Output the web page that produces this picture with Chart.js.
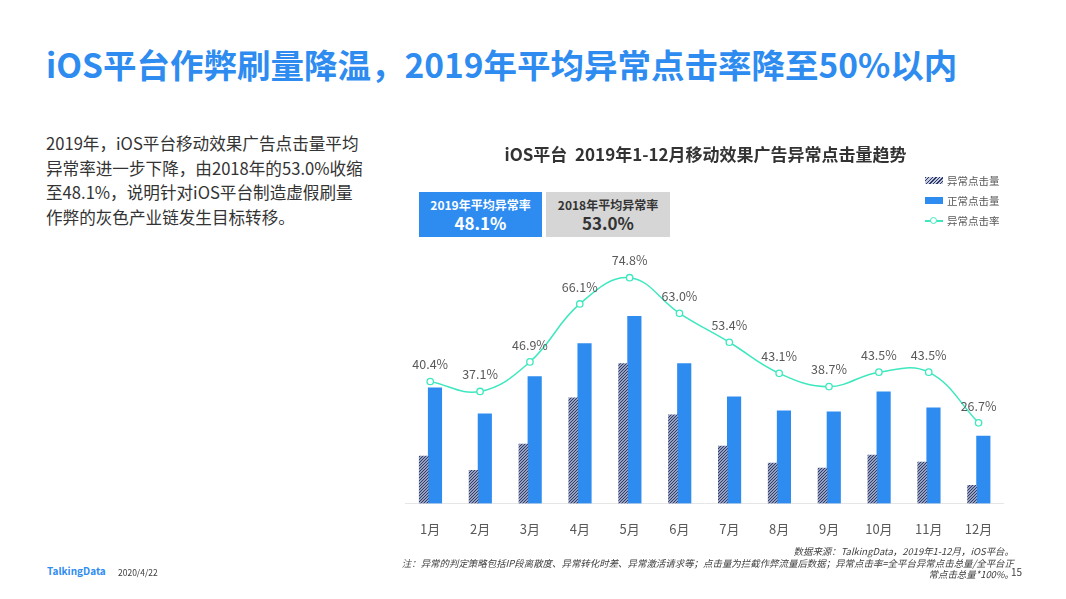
<!DOCTYPE html>
<html>
<head>
<meta charset="utf-8">
<script src="https://cdn.jsdelivr.net/npm/chart.js@4"></script>
<style>
html, body { margin: 0; padding: 0; background: #fff; }
body { width: 1066px; height: 599px; position: relative; overflow: hidden; font-family: "Noto Sans CJK SC", "Noto Sans", sans-serif; }
div { position: absolute; white-space: nowrap; }
#page-title { left: 46px; top: 41px; font-size: 33.5px; line-height: 46px; font-weight: 700; color: #2e8cf0; }
#body-text { left: 46px; top: 131px; font-size: 16.6px; line-height: 24.7px; color: #333; }
#chart-wrap { left: 400px; top: 140px; width: 612px; height: 407px; }
#chart-wrap canvas { display: block; }
.box { top: 192px; height: 45px; width: 123px; text-align: center; font-weight: 700; }
.box span { position: absolute; left: 0; right: 0; }
.box .cap { top: 4px; font-size: 12px; line-height: 17px; }
.box .num { top: 19px; font-size: 17px; line-height: 24px; }
#box-a { left: 419px; background: #2e8cf0; color: #fff; }
#box-b { left: 546px; width: 124px; background: #d6d6d6; color: #333; }
.lg-text { left: 947px; font-size: 10.5px; line-height: 14px; color: #595959; }
.lg-swatch { left: 925px; width: 18px; height: 6px; }
#note { right: 52px; top: 546px; text-align: right; font-size: 9.45px; line-height: 11.6px; font-style: italic; color: #404040; }
#page-no { left: 1011px; top: 565px; font-size: 10px; line-height: 14px; color: #404040; background: #fff; }
#logo { left: 47px; top: 563px; font-size: 10px; line-height: 16px; font-weight: 700; color: #2e8cf0; }
#date { left: 118px; top: 565px; font-size: 8.5px; line-height: 14px; color: #404040; }
</style>
</head>
<body>
<div id="page-title">iOS平台作弊刷量降温，2019年平均异常点击率降至50%以内</div>
<div id="body-text">2019年，iOS平台移动效果广告点击量平均<br>异常率进一步下降，由2018年的53.0%收缩<br>至48.1%，说明针对iOS平台制造虚假刷量<br>作弊的灰色产业链发生目标转移。</div>

<div id="chart-wrap"><canvas id="chart" width="612" height="407"></canvas></div>

<div class="box" id="box-a"><span class="cap">2019年平均异常率</span><span class="num">48.1%</span></div>
<div class="box" id="box-b"><span class="cap">2018年平均异常率</span><span class="num">53.0%</span></div>

<div class="lg-swatch" style="top:177px;height:7px;background:repeating-linear-gradient(135deg,#2b3a6b 0 1px,#c5cbdc 1px 2.5px)"></div>
<div class="lg-text" style="top:174px">异常点击量</div>
<div class="lg-swatch" style="top:197px;height:7px;background:#2e8cf0"></div>
<div class="lg-text" style="top:194px">正常点击量</div>
<div class="lg-swatch" style="top:220px;height:1.5px;background:#3de8bf"></div>
<div style="left:930px;top:217px;width:5px;height:5px;border:1.5px solid #3de8bf;border-radius:50%;background:#fff"></div>
<div class="lg-text" style="top:214px">异常点击率</div>

<div id="note">数据来源：TalkingData，2019年1-12月，iOS平台。<br>注：异常的判定策略包括IP段离散度、异常转化时差、异常激活请求等；点击量为拦截作弊流量后数据；异常点击率=全平台异常点击总量/全平台正<br>常点击总量*100%。</div>
<div id="page-no">15</div>
<div id="logo">TalkingData</div>
<div id="date">2020/4/22</div>

<script>
var chartTitle = 'iOS平台  2019年1-12月移动效果广告异常点击量趋势';
var months = ['1月','2月','3月','4月','5月','6月','7月','8月','9月','10月','11月','12月'];
var abnormalClicks = [47, 33, 59, 105, 139, 88, 57, 40, 35, 48, 41, 18];
var normalClicks = [115, 89, 126, 159, 186, 139, 106, 92, 91, 111, 95, 67];
var abnormalRate = [40.4, 37.1, 46.9, 66.1, 74.8, 63.0, 53.4, 43.1, 38.7, 43.5, 43.5, 26.7];

// diagonal hatch for the abnormal bars
function hatchPattern() {
    var c = document.createElement('canvas');
    c.width = 3;
    c.height = 3;
    var p = c.getContext('2d');
    p.fillStyle = '#c5cbdc';
    p.fillRect(0, 0, 3, 3);
    p.strokeStyle = '#26356a';
    p.lineWidth = 1.1;
    p.beginPath();
    p.moveTo(-1, 4); p.lineTo(4, -1);
    p.moveTo(-1, 1); p.lineTo(1, -1);
    p.moveTo(2, 4); p.lineTo(4, 2);
    p.stroke();
    return p.createPattern(c, 'repeat');
}

// the two bars of a month sit 2px left of the category centre
var barShift = {
    id: 'barShift',
    afterDatasetsUpdate: function (chart) {
        [0, 1].forEach(function (i) {
            chart.getDatasetMeta(i).data.forEach(function (bar) {
                bar.x -= 2;
            });
        });
    }
};

// the title is centred a little right of the plot
var titleNudge = {
    id: 'titleNudge',
    afterLayout: function (chart) {
        chart.titleBlock.left += 4;
    }
};

// percent labels above the line points
var rateLabels = {
    id: 'rateLabels',
    afterDatasetsDraw: function (chart) {
        var ctx = chart.ctx;
        ctx.save();
        ctx.font = '12.5px "Noto Sans CJK SC"';
        ctx.fillStyle = '#595959';
        ctx.textAlign = 'center';
        ctx.textBaseline = 'middle';
        chart.getDatasetMeta(2).data.forEach(function (pt, i) {
            ctx.fillText(abnormalRate[i].toFixed(1) + '%', pt.x, pt.y - 17);
        });
        ctx.restore();
    }
};

new Chart(document.getElementById('chart').getContext('2d'), {
    type: 'bar',
    data: {
        labels: months,
        datasets: [
            { label: '异常点击量', data: abnormalClicks, backgroundColor: hatchPattern(), barThickness: 9, order: 1, yAxisID: 'y' },
            { label: '正常点击量', data: normalClicks, backgroundColor: '#2e8cf0', barThickness: 13.5, order: 2, yAxisID: 'y' },
            {
                type: 'line', label: '异常点击率', data: abnormalRate, yAxisID: 'y2', order: 0,
                borderColor: '#3de8bf', borderWidth: 1.5, tension: 0.4,
                pointRadius: 3.2, pointBorderWidth: 1.3, pointBackgroundColor: '#fff', pointBorderColor: '#3de8bf'
            }
        ]
    },
    options: {
        responsive: false,
        animation: false,
        layout: { padding: { left: 3.5, right: 8.5, top: 0, bottom: 0 } },
        plugins: {
            legend: { display: false },
            tooltip: { enabled: false },
            title: {
                display: true,
                text: chartTitle,
                color: '#333',
                font: { family: '"Noto Sans CJK SC"', size: 17, weight: '700' },
                padding: { top: 4, bottom: 97.6 }
            }
        },
        scales: {
            x: {
                grid: { display: false },
                border: { color: '#e6e6e6' },
                ticks: { color: '#595959', font: { family: '"Noto Sans CJK SC"', size: 13 }, maxRotation: 0, autoSkip: false, padding: 10 },
                afterFit: function (scale) {
                    scale.paddingLeft = 0;
                    scale.paddingRight = 0;
                }
            },
            y: { display: false, min: 0, max: 240 },
            y2: { display: false, min: 0, max: 80 }
        }
    },
    plugins: [barShift, titleNudge, rateLabels]
});
</script>
</body>
</html>
